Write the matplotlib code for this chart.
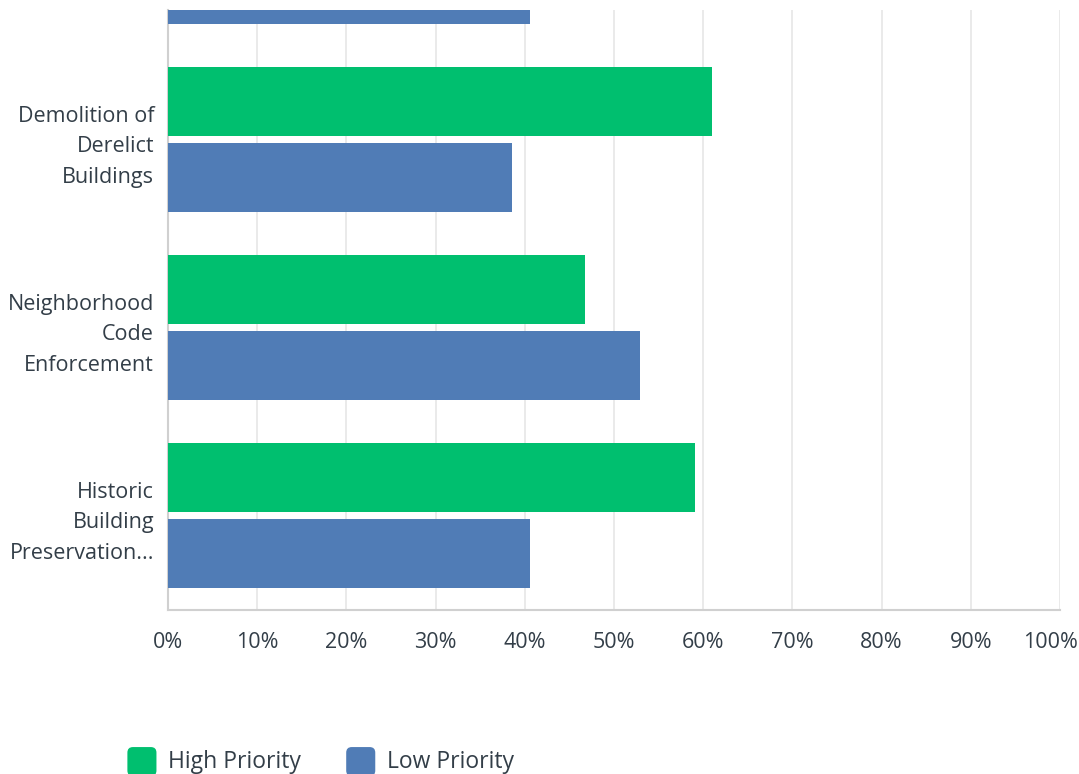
import numpy as np
import matplotlib.pyplot as plt
import matplotlib.transforms as mtransforms
from matplotlib.patches import FancyBboxPatch
from matplotlib.legend_handler import HandlerBase

plt.rcParams['font.family'] = ['Open Sans', 'DejaVu Sans']

# data, bottom group first; the top group is cut off in the view
categories = ['Historic\nBuilding\nPreservation...',
              'Neighborhood\nCode\nEnforcement',
              'Demolition of\nDerelict\nBuildings',
              '']
high = [59.1, 46.7, 61.0, 59.4]
low = [40.6, 52.9, 38.6, 40.6]
xticks = [0, 10, 20, 30, 40, 50, 60, 70, 80, 90, 100]
xticklabels = [f'{v}%' for v in xticks]

green = '#00bf6f'
blue = '#507cb6'
txt = '#333e48'

fig = plt.figure(figsize=(10.79, 7.74), dpi=100)
ax = fig.add_axes([168/1079, 1 - 610/774, (1060 - 168)/1079, 600/774])

y = np.arange(len(categories))
h = 0.367
off = 0.202
b1 = ax.barh(y + off, high, height=h, color=green, label='High Priority', zorder=3)
b2 = ax.barh(y - off, low, height=h, color=blue, label='Low Priority', zorder=3)

ax.set_xticks(xticks)
ax.set_xticklabels(xticklabels)
ax.set_yticks(y)
ax.set_yticklabels(categories, linespacing=1.6)
ax.set_xlim(0, 100)
ax.set_ylim(-0.503, 2.689)

ax.tick_params(axis='x', length=0, pad=16, labelsize=15.5, labelcolor=txt)
ax.tick_params(axis='y', length=0, pad=10, labelsize=15.5, labelcolor=txt)
for lab in ax.get_yticklabels():
    lab.set_horizontalalignment('right')
# last x label is pulled in so it stays inside the picture
last = ax.get_xticklabels()[-1]
last.set_transform(last.get_transform() +
                   mtransforms.ScaledTranslation(-10/100, 0, fig.dpi_scale_trans))

ax.grid(axis='x', color='#e6e6e6', linewidth=1.2, zorder=0)
for s in ['top', 'right']:
    ax.spines[s].set_visible(False)
ax.spines['left'].set_color('#d0d0d0')
ax.spines['bottom'].set_color('#d0d0d0')
ax.spines['left'].set_linewidth(1.5)
ax.spines['bottom'].set_linewidth(1.5)


class RoundBox(HandlerBase):
    def create_artists(self, legend, orig, xd, yd, w, hh, fontsize, trans):
        fc = orig.patches[0].get_facecolor()
        s = w - 3
        p = FancyBboxPatch((-xd + 1, -yd + hh / 2 - s / 2 - 1), s, s,
                           boxstyle='round,pad=0,rounding_size=4',
                           facecolor=fc, edgecolor='none',
                           transform=trans)
        return [p]


leg = fig.legend([b1, b2], ['High Priority', 'Low Priority'], loc='center left',
                 bbox_to_anchor=(126/1079, 1 - 762/774), ncol=2,
                 frameon=False, fontsize=16.5, borderpad=0, borderaxespad=0,
                 handlelength=1.45, handleheight=1.0, handletextpad=0.4,
                 columnspacing=1.9,
                 handler_map={b1: RoundBox(), b2: RoundBox()})
for t in leg.get_texts():
    t.set_color(txt)

fig.savefig('out.png', dpi=100)
